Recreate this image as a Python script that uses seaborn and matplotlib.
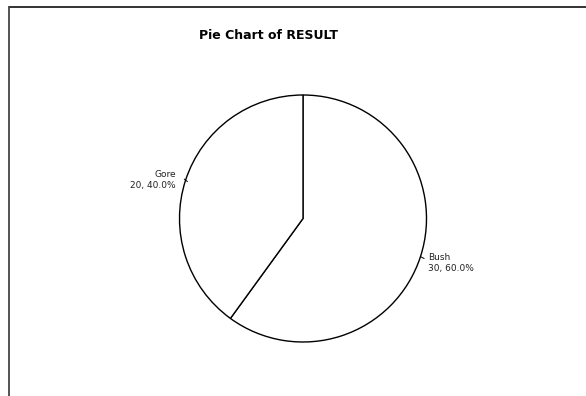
import matplotlib
matplotlib.use("Agg")
import matplotlib.pyplot as plt
from matplotlib.lines import Line2D
import numpy as np
import seaborn as sns

# Election result counts
categories = ["Bush", "Gore"]
counts = [30, 20]

sns.set_theme(style="white")
plt.rcParams["font.family"] = ["DejaVu Sans"]

W, H = 586, 396
fig = plt.figure(figsize=(W / 100, H / 100), dpi=100)
fig.patch.set_facecolor("white")

# Outer frame (top and left edges)
fig.add_artist(Line2D([8.5 / W, 1.0], [1 - 6.5 / H, 1 - 6.5 / H], transform=fig.transFigure,
                      color="#222222", lw=1.3))
fig.add_artist(Line2D([8.5 / W, 8.5 / W], [0.0, 1 - 6.5 / H], transform=fig.transFigure,
                      color="#444444", lw=1.3))

cx, cy, r = 303.0, 218.5, 123.5
ax = fig.add_axes([(cx - r) / W, (H - cy - r) / H, 2 * r / W, 2 * r / H])

total = sum(counts)
wedges, _ = ax.pie(counts, startangle=90, counterclock=False, radius=1.0,
                   colors=["white"] * len(counts),
                   wedgeprops=dict(edgecolor="black", linewidth=1.0))
ax.set_xlim(-1, 1)
ax.set_ylim(-1, 1)
ax.set_aspect("auto")
ax.set_axis_off()

# Labels with short leader ticks at each wedge's mid-angle
for w, name, n in zip(wedges, categories, counts):
    ang = np.deg2rad((w.theta1 + w.theta2) / 2)
    x, y = np.cos(ang), np.sin(ang)
    side = 1 if x > 0 else -1
    txt = f"{name}\n{n}, {100 * n / total:.1f}%"
    if side > 0:
        ax.plot([x, x + 0.03], [y, y - 0.015], color="black", lw=0.7)
        tx, ty = x + 0.06, y - 0.05
    else:
        ax.plot([x - 0.01, x + 0.015], [y + 0.01, y - 0.01], color="black", lw=0.7)
        tx, ty = x - 0.08, y
    ax.text(tx, ty, txt, ha="left" if side > 0 else "right", va="center",
            fontsize=6.5, color="#222222", linespacing=1.25)

fig.text(268.5 / W, 1 - 35.5 / H, "Pie Chart of RESULT", ha="center", va="center",
         fontsize=9, fontweight="bold", color="black")

fig.savefig("out.png", dpi=100)
